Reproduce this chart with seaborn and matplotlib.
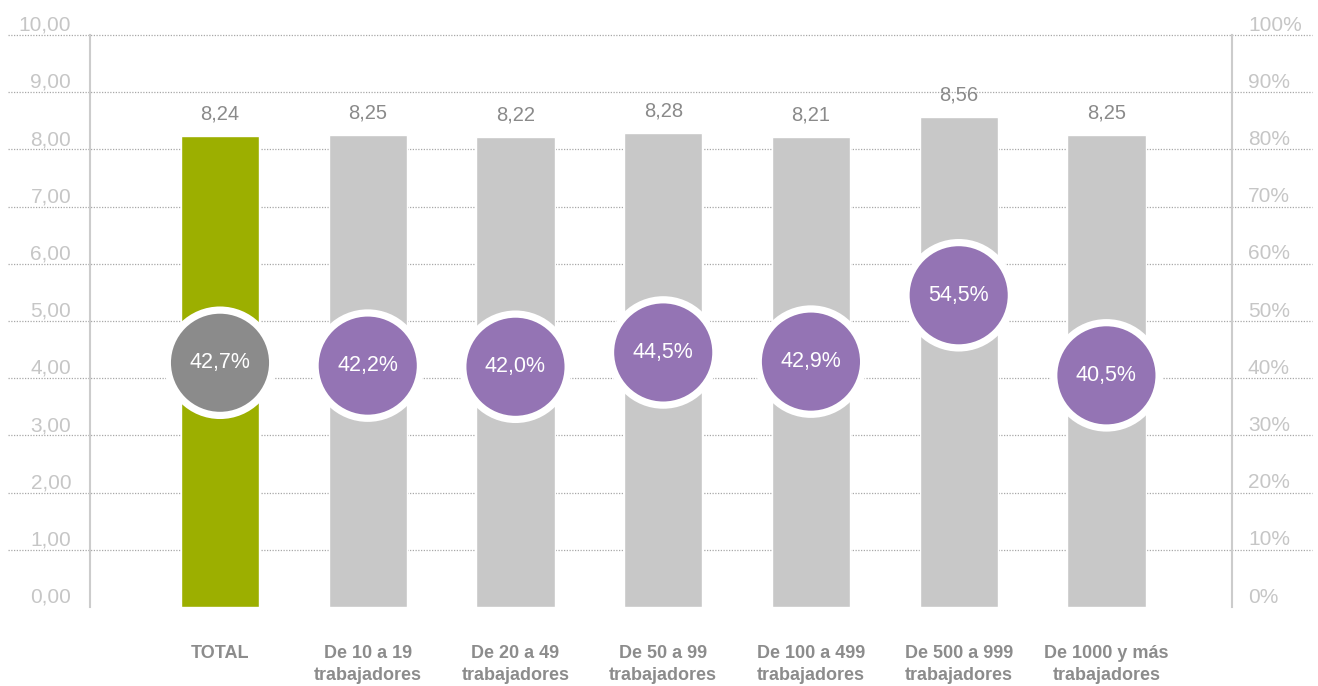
import numpy as np
import pandas as pd
import matplotlib
matplotlib.use("Agg")
import matplotlib.pyplot as plt
from matplotlib.transforms import ScaledTranslation
import seaborn as sns

categories = ["TOTAL", "De 10 a 19\ntrabajadores", "De 20 a 49\ntrabajadores",
              "De 50 a 99\ntrabajadores", "De 100 a 499\ntrabajadores",
              "De 500 a 999\ntrabajadores", "De 1000 y más\ntrabajadores"]
scores = [8.24, 8.25, 8.22, 8.28, 8.21, 8.56, 8.25]
score_labels = ["8,24", "8,25", "8,22", "8,28", "8,21", "8,56", "8,25"]
pcts = [42.7, 42.2, 42.0, 44.5, 42.9, 54.5, 40.5]
pct_labels = ["42,7%", "42,2%", "42,0%", "44,5%", "42,9%", "54,5%", "40,5%"]
left_ticks = [0, 1, 2, 3, 4, 5, 6, 7, 8, 9, 10]
left_tick_labels = ["0,00", "1,00", "2,00", "3,00", "4,00", "5,00", "6,00", "7,00", "8,00", "9,00", "10,00"]
right_ticks = [0, 10, 20, 30, 40, 50, 60, 70, 80, 90, 100]
right_tick_labels = ["0%", "10%", "20%", "30%", "40%", "50%", "60%", "70%", "80%", "90%", "100%"]

bar_colors = ["#9caf00"] + ["#c8c8c8"] * 6
circle_colors = ["#8b8b8b"] + ["#9474b4"] * 6

sns.set_style("white")
plt.rcParams["font.family"] = ["Liberation Sans", "DejaVu Sans"]

df = pd.DataFrame({"cat": categories, "score": scores, "pct": pcts})

fig = plt.figure(figsize=(13.18, 6.86), dpi=100)
ax = fig.add_axes([90 / 1318, 79 / 686, 1142 / 1318, 572 / 686])

# grid lines (dotted, extending beyond the axes)
for y in left_ticks[1:]:
    ax.axhline(y, xmin=-0.072, xmax=1.07, clip_on=False, color="#a8a8a8",
               lw=0.9, ls=(0, (1, 1.2)), zorder=0)

sns.barplot(data=df, x="cat", y="score", hue="cat", palette=bar_colors,
            width=0.53, legend=False, ax=ax, saturation=1, zorder=2)

ax.set_ylim(0, 10)
ax.set_xlim(-0.88, 6.85)
ax.set_xlabel("")
ax.set_ylabel("")

for i, (v, lab) in enumerate(zip(scores, score_labels)):
    ax.annotate(lab, (i, v), xytext=(0, 9), textcoords="offset points",
                ha="center", va="bottom", fontsize=14.5, color="#8a8a8a")

ax.set_yticks(left_ticks)
ax.set_yticklabels(left_tick_labels, fontsize=15, color="#c6c6c6")
ax.tick_params(axis="y", length=0, pad=13.5)
off = ScaledTranslation(0, 8.5 / 72, fig.dpi_scale_trans)
for t in ax.get_yticklabels():
    t.set_transform(t.get_transform() + off)

ax.tick_params(axis="x", length=0, pad=27)
for t in ax.get_xticklabels():
    t.set_fontweight("bold")
    t.set_fontsize(13)
    t.set_color("#8c8c8c")
    t.set_linespacing(1.4)

for s in ["top", "bottom"]:
    ax.spines[s].set_visible(False)
for s in ["left", "right"]:
    ax.spines[s].set_color("#cccccc")
    ax.spines[s].set_linewidth(1.5)

ax2 = ax.twinx()
ax2.set_ylim(0, 100)
sns.scatterplot(data=df, x="cat", y="pct", hue="cat", palette=circle_colors,
                s=5750, edgecolor="white", linewidth=5.2, legend=False,
                ax=ax2, zorder=3, clip_on=False)
for i, (p, lab) in enumerate(zip(pcts, pct_labels)):
    ax2.text(i, p, lab, ha="center", va="center", fontsize=15.5, color="white", zorder=4)

ax2.set_yticks(right_ticks)
ax2.set_yticklabels(right_tick_labels, fontsize=15, color="#c6c6c6")
ax2.tick_params(axis="y", length=0, pad=11.5)
for t in ax2.get_yticklabels():
    t.set_transform(t.get_transform() + off)
ax2.set_ylabel("")
ax2.set_xlabel("")
for s in ["top", "bottom", "left", "right"]:
    ax2.spines[s].set_visible(False)
ax2.set_xlim(-0.88, 6.85)

fig.savefig("out.png", dpi=100)
